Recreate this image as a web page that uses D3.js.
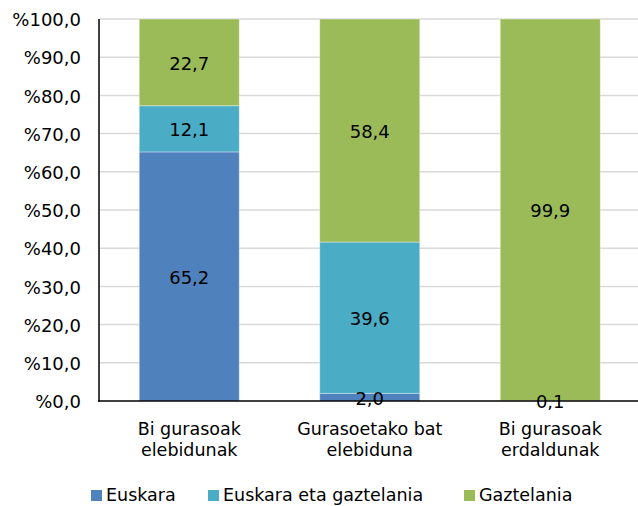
<!DOCTYPE html>
<html>
<head>
<meta charset="utf-8">
<script src="https://cdn.jsdelivr.net/npm/d3@7"></script>
<style>
html,body{margin:0;padding:0;background:#fff;}
svg{display:block;font-family:"DejaVu Sans",Verdana,sans-serif;}
</style>
</head>
<body>
<svg id="chart" width="638" height="506"></svg>
<script>
const categories = [["Bi gurasoak","elebidunak"],["Gurasoetako bat","elebiduna"],["Bi gurasoak","erdaldunak"]];
const seriesNames = ["Euskara","Euskara eta gaztelania","Gaztelania"];
const euskara = [65.2, 2.0, 0.0];
const euskaraGaztelania = [12.1, 39.6, 0.1];
const gaztelania = [22.7, 58.4, 99.9];
const yTicks = [0,10,20,30,40,50,60,70,80,90,100];
const colors = ["#4f81bd","#4bacc6","#9bbb59"];

const seriesValues = [euskara, euskaraGaztelania, gaztelania];
const svg = d3.select("#chart");
const FS = 18;
const x = d3.scaleBand().domain(d3.range(categories.length)).range([99, 640.5]).paddingInner(0.446).paddingOuter(0.223);
const y = d3.scaleLinear().domain([0,100]).range([401,19]);

// gridlines
svg.append("g").selectAll("line").data(yTicks.filter(d=>d>0)).join("line")
  .attr("x1",99).attr("x2",638).attr("y1",d=>y(d)).attr("y2",d=>y(d))
  .attr("stroke","#d9d9d9").attr("stroke-width",1.5);

// stacked data
const rows = categories.map((c,i)=>{const o={i}; seriesNames.forEach((s,k)=>o[s]=seriesValues[k][i]); return o;});
const stack = d3.stack().keys(seriesNames)(rows);

const g = svg.append("g");
stack.forEach((layer,k)=>{
  g.append("g").selectAll("rect").data(layer).join("rect")
    .attr("x",d=>x(d.data.i)).attr("width",x.bandwidth())
    .attr("y",d=>y(d[1])).attr("height",d=>y(d[0])-y(d[1]))
    .attr("fill",colors[k])
    .attr("stroke","rgba(255,255,255,0.35)").attr("stroke-width",1);
});

// value labels
stack.forEach((layer,k)=>{
  g.append("g").selectAll("text").data(layer.filter(d=>d[1]-d[0]>0)).join("text")
    .attr("x",d=>x(d.data.i)+x.bandwidth()/2)
    .attr("y",d=>(y(d[0])+y(d[1]))/2)
    .attr("dy","0.42em")
    .attr("text-anchor","middle").attr("font-size",FS).attr("fill","#000")
    .text(d=>d3.format(".1f")(d[1]-d[0]).replace(".",","));
});

// axes lines
svg.append("line").attr("x1",99).attr("x2",99).attr("y1",19).attr("y2",401.5).attr("stroke","#000").attr("stroke-width",1.5);
svg.append("line").attr("x1",98).attr("x2",638).attr("y1",401).attr("y2",401).attr("stroke","#000").attr("stroke-width",1.5);

// y tick labels
svg.append("g").selectAll("text").data(yTicks).join("text")
  .attr("x",81).attr("y",d=>y(d)).attr("dy","0.4em")
  .attr("text-anchor","end").attr("font-size",FS).attr("fill","#000")
  .text(d=>"%"+d3.format(".1f")(d).replace(".",","));

// category labels
const cl = svg.append("g").selectAll("text").data(categories).join("text")
  .attr("x",(d,i)=>x(i)+x.bandwidth()/2).attr("y",435)
  .attr("text-anchor","middle").attr("font-size",FS-0.5).attr("fill","#000");
cl.selectAll("tspan").data(d=>d).join("tspan")
  .attr("x",function(){return d3.select(this.parentNode).attr("x");})
  .attr("dy",(d,j)=>j===0?0:21).text(d=>d);

// legend
const legX = [91, 208, 464];
const lg = svg.append("g").selectAll("g").data(seriesNames).join("g")
  .attr("transform",(d,i)=>`translate(${legX[i]},0)`);
lg.append("rect").attr("x",0).attr("y",490).attr("width",11).attr("height",11).attr("fill",(d,i)=>colors[i]);
lg.append("text").attr("x",15).attr("y",501).attr("font-size",FS-0.5).attr("fill","#000").text(d=>d);
</script>
</body>
</html>
